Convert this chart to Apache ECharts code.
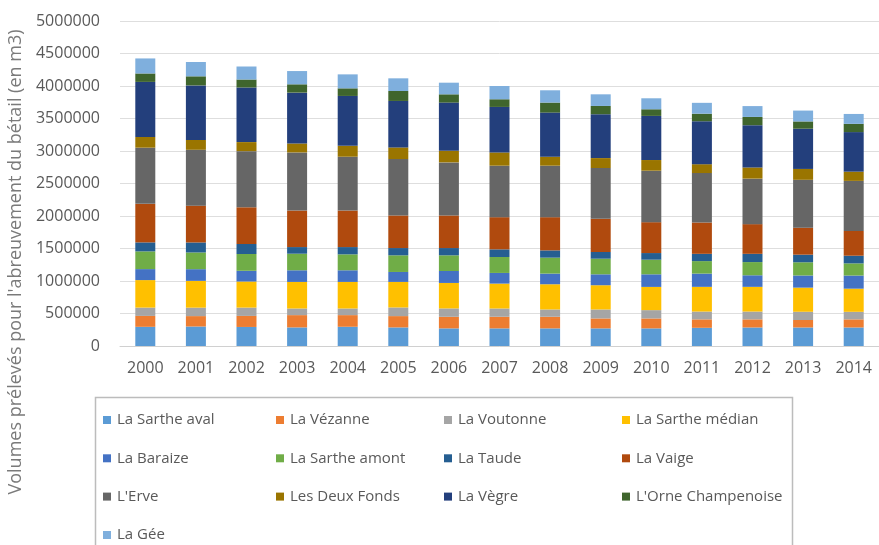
<!DOCTYPE html>
<html>
<head>
<meta charset="utf-8">
<script src="https://cdn.jsdelivr.net/npm/echarts@6/dist/echarts.min.js"></script>
<style>
html,body{margin:0;padding:0;background:#fff;}
#chart{width:879px;height:545px;}
</style>
</head>
<body>
<div id="chart"></div>
<script>
const years = ['2000','2001','2002','2003','2004','2005','2006','2007','2008','2009','2010','2011','2012','2013','2014'];
const seriesNames = ['La Sarthe aval','La Vézanne','La Voutonne','La Sarthe médian','La Baraize','La Sarthe amont','La Taude','La Vaige',"L'Erve",'Les Deux Fonds','La Vègre',"L'Orne Champenoise",'La Gée'];
const sartheAval   = [295000,300000,293000,286000,296000,286000,271000,271000,271000,271000,271000,280000,285000,285000,285000];
const vezanne      = [168000,160000,170000,189000,179000,174000,178000,179000,179000,153000,153000,130000,125000,115000,125000];
const voutonne     = [128000,130000,128000,102000,102000,133000,129000,127000,112000,138000,128000,120000,120000,127000,116000];
const sartheMedian = [423000,412000,401000,409000,409000,393000,392000,383000,388000,373000,357000,380000,380000,371000,356000];
const baraize      = [169000,180000,165000,179000,179000,153000,184000,164000,164000,168000,194000,204000,178000,187000,202000];
const sartheAmont  = [273000,257000,258000,255000,245000,256000,241000,245000,245000,240000,225000,192000,203000,203000,187000];
const taude        = [138000,154000,154000,102000,112000,112000,112000,118000,112000,103000,102000,112000,127000,117000,118000];
const vaige        = [593000,566000,565000,562000,562000,501000,501000,495000,511000,511000,475000,482000,457000,415000,380000];
const erve         = [864000,860000,864000,894000,828000,868000,817000,792000,792000,781000,792000,761000,700000,737000,771000];
const deuxFonds    = [164000,150000,139000,138000,168000,179000,179000,204000,138000,153000,164000,136000,172000,167000,142000];
const vegre        = [848000,840000,840000,782000,767000,715000,741000,700000,679000,675000,679000,661000,650000,619000,609000];
const orne         = [130000,140000,123000,128000,117000,153000,127000,118000,154000,127000,102000,116000,127000,112000,127000];
const gee          = [231000,220000,200000,204000,215000,195000,179000,204000,189000,179000,169000,167000,167000,167000,152000];
const yTicks = {min:0, max:5000000, interval:500000};
const yTitle = "Volumes prélevés pour l'abreuvement du bétail (en m3)";

const allValues = [sartheAval,vezanne,voutonne,sartheMedian,baraize,sartheAmont,taude,vaige,erve,deuxFonds,vegre,orne,gee];
const colors = ['#5B9BD5','#ED7D31','#A5A5A5','#FFC000','#4472C4','#70AD47','#255E91','#B04A0E','#666666','#9A7500','#233F7C','#3F652D','#7FAFDD'];

const FONT = '"Open Sans", sans-serif';
const chart = echarts.init(document.getElementById('chart'), null, {renderer:'canvas'});

const series = seriesNames.map((n,i)=>({
  name:n, type:'bar', stack:'total', data:allValues[i], barWidth:20,
  itemStyle:{color:colors[i]}, emphasis:{disabled:true}
}));

const cols = [
  [seriesNames[0],seriesNames[4],seriesNames[8]],
  [seriesNames[1],seriesNames[5],seriesNames[9]],
  [seriesNames[2],seriesNames[6],seriesNames[10]],
  [seriesNames[3],seriesNames[7],seriesNames[11]],
  [seriesNames[12]]
];
const colX = [103,276,444,622,103];
const colTop = [412,412,412,412,527];
const legends = cols.map((c,i)=>({
  data:c, orient:'vertical', left:colX[i], top:colTop[i], height:200, itemWidth:8, itemHeight:8, itemGap:22.3,
  icon:'rect', selectedMode:false, padding:0,
  textStyle:{fontFamily:FONT, fontSize:15, color:'#595959', lineHeight:16, padding:[0,0,0,1]}
}));

chart.setOption({
  animation:false,
  color:colors,
  grid:{left:120, right:-4, top:21, bottom:199, containLabel:false},
  xAxis:{type:'category', data:years,
    axisLine:{lineStyle:{color:'#d0d0d0'}}, axisTick:{show:false},
    axisLabel:{fontFamily:FONT, fontSize:16, color:'#595959', margin:14}},
  yAxis:{type:'value', min:yTicks.min, max:yTicks.max, interval:yTicks.interval,
    axisLine:{show:false}, axisTick:{show:false},
    splitLine:{lineStyle:{color:'#dedede'}},
    axisLabel:{fontFamily:FONT, fontSize:16, color:'#595959', margin:20, formatter:v=>String(v)}},
  legend:legends,
  graphic:[
    {type:'rect', shape:{x:95.5, y:397.5, width:697, height:160}, style:{fill:'none', stroke:'#bcbcbc', lineWidth:1.5}, silent:true},
    {type:'text', x:16, y:262, rotation:Math.PI/2,
      style:{text:yTitle, fontFamily:FONT, fontSize:18, fill:'#7a7a7a', align:'center', verticalAlign:'middle'}}
  ],
  series:series
});
</script>
</body>
</html>
